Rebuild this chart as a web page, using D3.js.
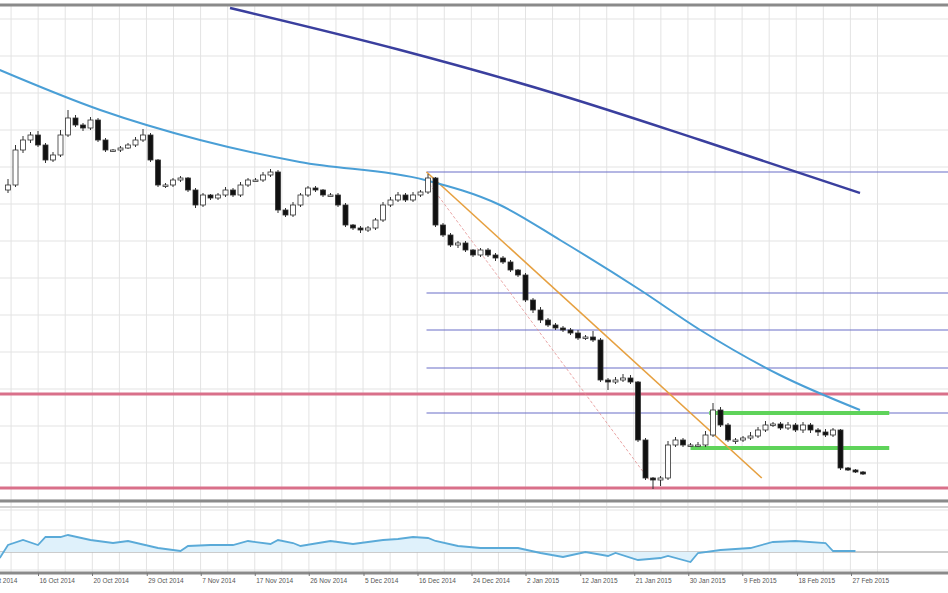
<!DOCTYPE html>
<html>
<head>
<meta charset="utf-8">
<script src="https://cdn.jsdelivr.net/npm/d3@7"></script>
<style>
  body { margin: 0; background: #fff; }
  svg { display: block; font-family: "DejaVu Sans", sans-serif; }
</style>
</head>
<body>
<div id="display"></div>
<script>
// daily closes (open = previous close)
const closes = [1.2075,1.2250,1.2300,1.2325,1.2275,1.2200,1.2225,1.2325,1.2410,1.2375,
  1.2360,1.2400,1.2300,1.2250,1.2250,1.2260,1.2275,1.2300,1.2325,1.2200,
  1.2075,1.2075,1.2100,1.2110,1.2050,1.1975,1.2025,1.2010,1.2025,1.2050,
  1.2025,1.2075,1.2100,1.2100,1.2125,1.2140,1.1950,1.1925,1.1975,1.2025,
  1.2060,1.2050,1.2025,1.2025,1.1975,1.1875,1.1860,1.1850,1.1860,1.1900,
  1.1975,1.2000,1.2025,1.2000,1.2025,1.2040,1.2110,1.1875,1.1825,1.1775,
  1.1785,1.1750,1.1725,1.1750,1.1725,1.1710,1.1690,1.1650,1.1625,1.1500,
  1.1450,1.1400,1.1375,1.1360,1.1350,1.1335,1.1310,1.1315,1.1300,1.1100,
  1.1090,1.1100,1.1110,1.1090,1.0800,1.0610,1.0600,1.0610,1.0775,1.0800,
  1.0775,1.0775,1.0775,1.0825,1.0950,1.0875,1.0800,1.0800,1.0810,1.0820,
  1.0850,1.0875,1.0880,1.0860,1.0875,1.0850,1.0875,1.0850,1.0840,1.0825,
  1.0850,1.0660,1.0650,1.0640,1.0630]
const firstOpen = 1.2050
// wick sizes above / below the body, in pips
const wickUp = [30,25,20,15,20,10,15,25,40,15, 10,15,10,10,5,10,10,15,30,10,
  5,10,10,10,5,10,10,5,10,15, 10,15,10,10,15,15,10,10,15,10,
  10,10,5,10,10,10,5,10,10,10, 15,15,15,10,15,10,20,5,10,10,
  10,10,5,10,10,10,10,10,5,10, 10,15,10,10,10,10,15,10,30,10,
  10,15,20,15,5,10,5,10,20,15, 10,10,15,20,35,15,10,10,10,20,
  15,20,10,10,15,10,15,10,10,15, 10,5,5,5,5]
const wickDn = [15,10,15,15,10,15,10,10,10,10, 15,10,10,10,10,10,5,10,10,10,
  10,15,10,10,10,15,10,10,10,10, 10,10,10,5,10,10,15,10,10,10,
  10,10,10,5,10,10,10,15,10,10, 10,10,10,10,10,10,10,10,10,10,
  15,10,10,10,10,15,10,10,10,10, 15,15,10,10,10,10,10,10,10,10,
  40,10,10,10,10,10,45,30,10,10, 10,10,10,10,10,10,10,20,10,10,
  10,10,10,10,10,10,15,15,20,10, 10,10,5,5,5]

// moving averages [candle index, value]
const maFast = [[-1.1,1.2650],[12.3,1.2450],[25.6,1.2300],[38.9,1.2190],[55.6,1.2100],
  [65.6,1.1975],[73.6,1.1800],[84.3,1.1550],[92.3,1.1350],[102.9,1.1125],[113.6,1.0950]]
const maSlow = [[29.6,1.2960],[52.3,1.2750],[73.6,1.2525],[92.3,1.2300],[113.6,1.2035]]

// retracement levels, support/resistance, range
const fibLevels = [1.2140, 1.1535, 1.1350, 1.1160, 1.0935]
const redLevels = [1.1030, 1.0560]
const rangeLevels = [1.0935, 1.0760]

// oscillator [candle index, value]
const osc = [[-1.1,42],[0,55],[2,60],[4,55],[5,63],[7,63],[8,65],[11,60],[14,57],[16,59],
  [20,52],[23,49],[24,54],[27,55],[30,55],[32,59],[35,56],[36,60],[38,57],[39,54],
  [43,59],[46,56],[50,60],[52,61],[54,63],[56,62],[57,59],[60,54],[63,52],[68,52],
  [71,47],[74,43],[77,48],[80,44],[81,47],[84,40],[87,42],[88,44],[91,38],[92,47],
  [95,50],[99,52],[102,58],[105,59],[109,57],[110,49],[113,49]]

const labelIdx = [-3.2,4,11.2,18.5,25.7,32.9,40.1,47.4,54.6,61.8,69,76.3,83.5,90.7,97.9,105.2,112.4]
const labelText = ["7 Oct 2014","16 Oct 2014","20 Oct 2014","29 Oct 2014","7 Nov 2014","17 Nov 2014",
  "26 Nov 2014","5 Dec 2014","16 Dec 2014","24 Dec 2014","2 Jan 2015","12 Jan 2015",
  "21 Jan 2015","30 Jan 2015","9 Feb 2015","18 Feb 2015","27 Feb 2015"]

function chart(parentNode)
{
  let width = 948, height = 593
  let x = d3.scaleLinear([0, 114], [8, 863])
  let y = d3.scaleLinear([1.05, 1.30], [500, 0])
  let yo = d3.scaleLinear([0, 100], [600, 500])
  const pip = 0.0001

  const svg = d3.create("svg").attr("width", width).attr("height", height)

  // grid
  const grid = svg.append("g").attr("stroke", "#e3e3e3").attr("stroke-width", 1)
  const gx = d3.range(-3.2, 118, 3.61)
  grid.selectAll(".v").data(gx).join("line")
    .attr("x1", d => x(d)).attr("x2", d => x(d)).attr("y1", 6).attr("y2", 572)
  grid.selectAll(".h").data(d3.range(1.05, 1.30, 0.0185)).join("line")
    .attr("x1", 0).attr("x2", width).attr("y1", d => y(d)).attr("y2", d => y(d))
  grid.selectAll(".ho").data([90, 70, 30]).join("line")
    .attr("x1", 0).attr("x2", width).attr("y1", d => yo(d)).attr("y2", d => yo(d))

  // panel borders
  svg.append("g").attr("stroke", "#8a8a8a").attr("stroke-width", 3)
    .selectAll("line").data([5, 501, 573]).join("line")
    .attr("x1", 0).attr("x2", width).attr("y1", d => d).attr("y2", d => d)
  svg.append("line").attr("x1", 0).attr("x2", width).attr("y1", 507).attr("y2", 507)
    .attr("stroke", "#cfcfcf").attr("stroke-width", 2)

  // fib levels
  svg.append("g").selectAll("line").data(fibLevels).join("line")
    .attr("x1", x(55.8)).attr("x2", width).attr("y1", d => y(d)).attr("y2", d => y(d))
    .attr("stroke", "#6b6fc8").attr("stroke-width", 1.2)
  svg.append("g").selectAll("line").data(redLevels).join("line")
    .attr("x1", 0).attr("x2", width).attr("y1", d => y(d)).attr("y2", d => y(d))
    .attr("stroke", "#d9708a").attr("stroke-width", 3)
  svg.append("g").selectAll("line").data(rangeLevels).join("line")
    .attr("x1", (d, i) => x(i ? 91 : 93.5)).attr("x2", x(117.5))
    .attr("y1", d => y(d)).attr("y2", d => y(d))
    .attr("stroke", "#5fd35a").attr("stroke-width", 4)

  // trend lines
  svg.append("line").attr("x1", x(55.8)).attr("y1", y(1.2140)).attr("x2", x(100.5)).attr("y2", y(1.0610))
    .attr("stroke", "#e6a040").attr("stroke-width", 1.6)
  svg.append("line").attr("x1", x(55.8)).attr("y1", y(1.2100)).attr("x2", x(85.5)).attr("y2", y(1.0600))
    .attr("stroke", "#e59090").attr("stroke-width", 0.8).attr("stroke-dasharray", "3,2")

  // moving averages
  const line = d3.line().x(d => x(d[0])).y(d => y(d[1])).curve(d3.curveMonotoneX)
  svg.append("path").attr("d", line(maFast)).attr("fill", "none")
    .attr("stroke", "#4a9fd6").attr("stroke-width", 2)
  svg.append("path").attr("d", line(maSlow)).attr("fill", "none")
    .attr("stroke", "#3a3f9e").attr("stroke-width", 2.5)

  // candles
  const candles = closes.map((c, i) => {
    const o = i ? closes[i - 1] : firstOpen
    return {i, o, c, h: Math.max(o, c) + wickUp[i] * pip, l: Math.min(o, c) - wickDn[i] * pip}
  })
  const cg = svg.append("g").selectAll("g").data(candles).join("g")
  cg.append("line").attr("x1", d => x(d.i)).attr("x2", d => x(d.i))
    .attr("y1", d => y(d.h)).attr("y2", d => y(d.l)).attr("stroke", "#333")
  cg.append("rect").attr("x", d => x(d.i) - 2.5).attr("width", 5)
    .attr("y", d => y(Math.max(d.o, d.c)))
    .attr("height", d => Math.max(1.5, Math.abs(y(d.o) - y(d.c))))
    .attr("fill", d => d.c < d.o ? "#111" : "#fff").attr("stroke", "#333").attr("stroke-width", 0.8)

  // oscillator
  svg.append("line").attr("x1", 0).attr("x2", width).attr("y1", yo(48)).attr("y2", yo(48))
    .attr("stroke", "#bbb").attr("stroke-width", 1.5)
  svg.append("path").attr("d", d3.area().x(d => x(d[0])).y0(yo(48)).y1(d => yo(d[1]))(osc))
    .attr("fill", "#dff1fb")
  svg.append("path").attr("d", d3.line().x(d => x(d[0])).y(d => yo(d[1]))(osc))
    .attr("fill", "none").attr("stroke", "#5aaad8").attr("stroke-width", 1.8)

  // x axis
  const ax = svg.append("g").attr("transform", "translate(0,573)")
    .call(d3.axisBottom(x).tickValues(labelIdx).tickSize(3).tickFormat((d, i) => labelText[i]))
  ax.select(".domain").remove()
  ax.selectAll("line").attr("stroke", "#777")
  ax.selectAll("text").attr("text-anchor", "start").attr("dx", 1).attr("dy", 4)
    .attr("font-size", 6.5).attr("fill", "#555")

  parentNode.appendChild(svg.node())
}

document.addEventListener("DOMContentLoaded", () => {
  chart(document.getElementById("display"))
})
</script>
</body>
</html>
